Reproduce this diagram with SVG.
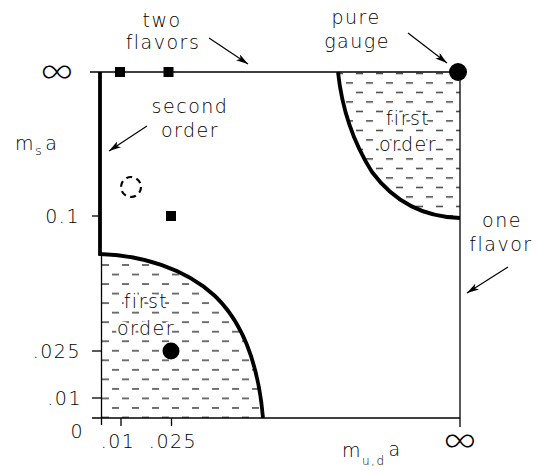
<svg xmlns="http://www.w3.org/2000/svg" width="536" height="471" viewBox="0 0 536 471">
<style>
text{font-family:"DejaVu Sans","Liberation Sans",sans-serif;font-size:19px;font-weight:300;letter-spacing:1.5px;fill:#000}
.mid{text-anchor:middle}
.end{text-anchor:end}
.thin{stroke:#000;stroke-width:1.3;fill:none}
.thick{stroke:#000;stroke-width:3.8;fill:none;stroke-linejoin:miter}
.arrow{stroke:#000;stroke-width:1.2;fill:none;marker-end:url(#ah)}
.knock{stroke:#fff;stroke-width:5;paint-order:stroke;stroke-linejoin:round}
.inf{font-family:Inter,"Noto Sans","DejaVu Sans",sans-serif;font-size:36px;font-weight:200;letter-spacing:0;text-anchor:middle}
.dash{stroke:#000;stroke-width:1.1}
</style>
<defs>
<marker id="ah" viewBox="0 0 12 7" markerWidth="12" markerHeight="7" refX="12" refY="3.5" orient="auto" markerUnits="userSpaceOnUse">
<path d="M0,0 L12,3.5 L0,7 L3,3.5 z" fill="#000"/>
</marker>
<pattern id="hatchLow" patternUnits="userSpaceOnUse" x="102" y="260.235" width="20" height="19.06">
<line class="dash" x1="0" y1="4.765" x2="7" y2="4.765"/>
<line class="dash" x1="10" y1="14.295" x2="17" y2="14.295"/>
</pattern>
<pattern id="hatchUp" patternUnits="userSpaceOnUse" x="346" y="78.25" width="20" height="19">
<line class="dash" x1="0" y1="4.75" x2="7" y2="4.75"/>
<line class="dash" x1="10" y1="14.25" x2="17" y2="14.25"/>
</pattern>
<clipPath id="clipLow"><path d="M101,254 C140,255 185,268 215,296 C240,320 258,360 263,418 L101,418 Z"/></clipPath>
<clipPath id="clipUp"><path d="M338,72 C342,110 355,145 372,172 C395,203 425,217 460,218 L460,72 Z"/></clipPath>
</defs>

<g id="axes">
<line class="thin" x1="90" y1="72" x2="460" y2="72"/>
<line class="thin" x1="460" y1="72" x2="460" y2="427"/>
<line class="thin" x1="92" y1="418" x2="460" y2="418"/>
<line class="thin" x1="101.5" y1="254" x2="101.5" y2="425"/>
<line class="thin" x1="92" y1="216" x2="101" y2="216"/>
<line class="thin" x1="92" y1="351" x2="101" y2="351"/>
<line class="thin" x1="92" y1="398" x2="101" y2="398"/>
<line class="thin" x1="121" y1="418" x2="121" y2="426"/>
<line class="thin" x1="171.5" y1="418" x2="171.5" y2="426"/>
</g>

<g id="region-first-order-low">
<rect x="101" y="254" width="165" height="164" fill="url(#hatchLow)" clip-path="url(#clipLow)"/>
<text class="mid knock" x="146" y="308">first</text>
<text class="mid knock" x="146" y="335">order</text>
</g>

<g id="region-first-order-up">
<rect x="336" y="72" width="124" height="148" fill="url(#hatchUp)" clip-path="url(#clipUp)"/>
<text class="mid knock" x="408" y="125">first</text>
<text class="mid knock" x="408" y="151">order</text>
</g>

<g id="boundaries">
<path class="thick" d="M100,72 L100,254 C140,255 185,268 215,296 C240,320 258,360 263,418"/>
<path class="thick" d="M338,72 C342,110 355,145 372,172 C395,203 425,217 460,218"/>
</g>

<g id="points">
<rect x="115" y="67" width="10" height="10" fill="#000"/>
<rect x="163.5" y="67" width="10" height="10" fill="#000"/>
<rect x="166" y="211" width="10" height="10" fill="#000"/>
<circle cx="171" cy="351" r="8.5" fill="#000"/>
<circle cx="458" cy="72" r="9" fill="#000"/>
<circle cx="131" cy="187" r="10" fill="none" stroke="#000" stroke-width="2.2" stroke-dasharray="6 4.5"/>
</g>

<g id="axis-labels">
<text class="inf" x="57" y="83">∞</text>
<text class="inf" x="460" y="452">∞</text>
<text class="end" x="80" y="223">0.1</text>
<text class="end" x="81" y="358">.025</text>
<text class="end" x="82" y="405">.01</text>
<text class="end" x="84" y="438">0</text>
<text class="mid" x="118" y="448">.01</text>
<text class="mid" x="173" y="448">.025</text>
<text x="15" y="150">m<tspan font-size="13" dy="5">s</tspan><tspan dy="-5" dx="2">a</tspan></text>
<text x="342" y="457">m<tspan font-size="12" dy="8">u,d</tspan><tspan dy="-9" dx="3">a</tspan></text>
</g>

<g id="label-two-flavors">
<text class="mid" x="162" y="27">two</text>
<text class="mid" x="163" y="49">flavors</text>
</g>
<g id="label-pure-gauge">
<text class="mid" x="356" y="24">pure</text>
<text class="mid" x="357" y="48">gauge</text>
</g>
<g id="label-second-order">
<text class="mid" x="190" y="113">second</text>
<text class="mid" x="190" y="137">order</text>
</g>
<g id="label-one-flavor">
<text class="mid" x="502" y="227">one</text>
<text class="mid" x="501" y="251">flavor</text>
</g>

<g id="connectors">
<line class="arrow" x1="209" y1="38" x2="248" y2="64"/>
<line class="arrow" x1="408" y1="33" x2="447" y2="63"/>
<line class="arrow" x1="147" y1="126" x2="109" y2="151"/>
<line class="arrow" x1="508" y1="267" x2="467" y2="293"/>
</g>
</svg>
